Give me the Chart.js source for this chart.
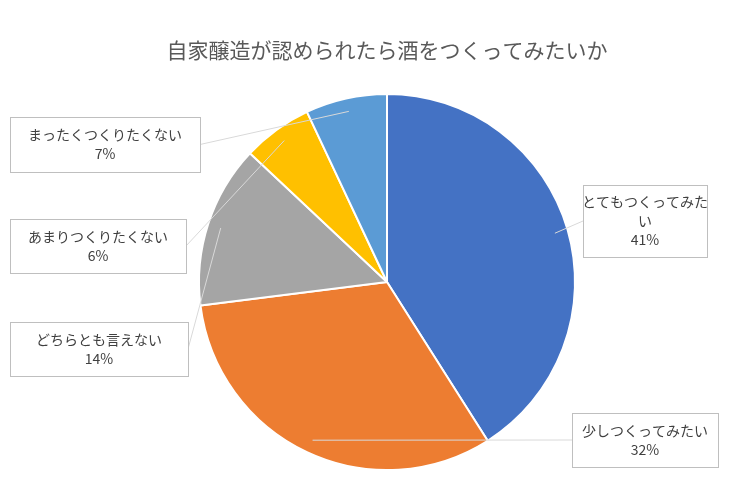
<!DOCTYPE html>
<html><head><meta charset="utf-8">
<script src="https://cdn.jsdelivr.net/npm/chart.js@4"></script>
<style>body{margin:0;background:#fff}#w{width:750px;height:497px}</style>
</head><body><div id="w"><canvas id="c"></canvas></div>
<script>
const categories=["とてもつくってみたい","少しつくってみたい","どちらとも言えない","あまりつくりたくない","まったくつくりたくない"];
const values=[41,32,14,6,7];
const colors=["#4472C4","#ED7D31","#A5A5A5","#FFC000","#5B9BD5"];
const boxes=[
 {x:583,y:185,w:124,h:72,lines:["とてもつくってみた","い","41%"]},
 {x:572,y:413,w:146,h:54,lines:["少しつくってみたい","32%"]},
 {x:10,y:322,w:178,h:54,lines:["どちらとも言えない","14%"]},
 {x:10,y:219,w:176,h:54,lines:["あまりつくりたくない","6%"]},
 {x:10,y:117,w:190,h:55,lines:["まったくつくりたくない","7%"]}
];
const font='"Noto Sans CJK JP","Noto Sans",sans-serif';
const callouts={id:'callouts',afterDraw(chart){
 const ctx=chart.ctx;const meta=chart.getDatasetMeta(0);
 ctx.save();
 ctx.fillStyle='#595959';ctx.font='21px '+font;ctx.textAlign='center';ctx.textBaseline='middle';
 ctx.fillText('自家醸造が認められたら酒をつくってみたいか',387,50);
 meta.data.forEach((arc,i)=>{
  const b=boxes[i];const a=(arc.startAngle+arc.endAngle)/2;
  const r=arc.outerRadius*0.93;
  const px=arc.x+Math.cos(a)*r,py=arc.y+Math.sin(a)*r;
  const cx=b.x+b.w/2,cy=b.y+b.h/2;
  let ex=px<cx?b.x:b.x+b.w; if(px>b.x&&px<b.x+b.w) ex=cx;
  ctx.strokeStyle='#D9D9D9';ctx.lineWidth=1;
  ctx.beginPath();ctx.moveTo(px,py);ctx.lineTo(ex,cy);ctx.stroke();
  ctx.fillStyle='#fff';ctx.strokeStyle='#BFBFBF';
  ctx.fillRect(b.x,b.y,b.w,b.h);ctx.strokeRect(b.x+.5,b.y+.5,b.w,b.h);
  ctx.fillStyle='#404040';ctx.font='14px '+font;
  const lh=19,t=cy-(b.lines.length-1)*lh/2;
  b.lines.forEach((l,j)=>ctx.fillText(l,cx,t+j*lh));
 });
 ctx.restore();
}};
new Chart(document.getElementById('c'),{type:'pie',
 data:{labels:categories,datasets:[{data:values,backgroundColor:colors,borderColor:'#fff',borderWidth:2}]},
 options:{responsive:true,maintainAspectRatio:false,animation:false,
  layout:{padding:{top:93,bottom:26,left:24,right:0}},
  plugins:{legend:{display:false},tooltip:{enabled:false}}},
 plugins:[callouts]});
</script></body></html>
